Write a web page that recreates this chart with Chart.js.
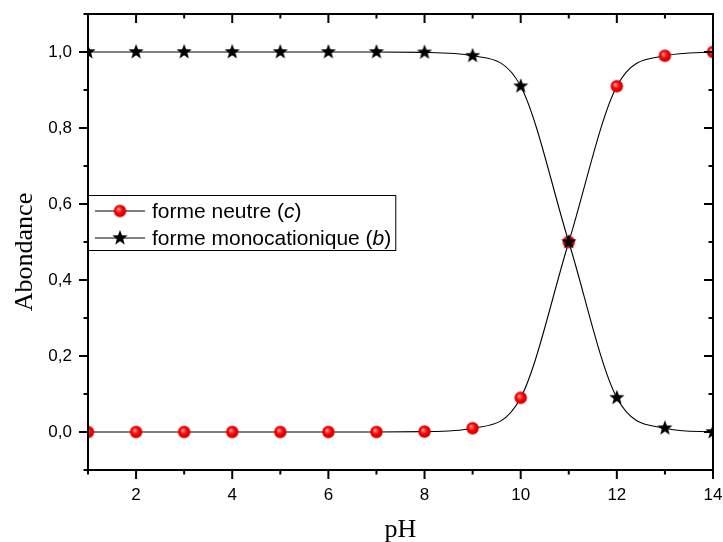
<!DOCTYPE html>
<html>
<head>
<meta charset="utf-8">
<script src="https://cdn.jsdelivr.net/npm/chart.js@4.4.1/dist/chart.umd.min.js"></script>
<style>
  html, body { margin: 0; padding: 0; background: #fff; }
  canvas { display: block; }
</style>
</head>
<body>
<canvas id="chart" width="723" height="542"></canvas>
<script>
// pH values and the abundance of each form
const pH = [1, 2, 3, 4, 5, 6, 7, 8, 9, 10, 11, 12, 13, 14];
const neutre = [0, 0, 0, 0, 0, 0, 0, 0.001, 0.01, 0.09, 0.5, 0.91, 0.99, 1.0];
const monocation = [1, 1, 1, 1, 1, 1, 1, 0.999, 0.99, 0.91, 0.5, 0.09, 0.01, 0.0];

// labelled ticks
const xTicks = [2, 4, 6, 8, 10, 12, 14];
const yTicks = [0, 0.2, 0.4, 0.6, 0.8, 1.0];

// legend texts: plain part + italic symbol
const seriesNames = ['forme neutre', 'forme monocationique'];
const seriesSymbols = ['c', 'b'];

const SANS = "'Liberation Sans', Arial, sans-serif";
const SERIF = "'Liberation Serif', 'Times New Roman', serif";

// red shaded sphere marker
function makeSphere(r) {
  const s = Math.ceil(r * 2 + 2);
  const cv = document.createElement('canvas');
  cv.width = s; cv.height = s;
  const g = cv.getContext('2d');
  const c = s / 2;
  const grad = g.createRadialGradient(c - r * 0.3, c - r * 0.35, 0, c, c, r);
  grad.addColorStop(0, '#ffe0e0');
  grad.addColorStop(0.22, '#ff6060');
  grad.addColorStop(0.55, '#ff0000');
  grad.addColorStop(1, '#c80000');
  g.fillStyle = grad;
  g.beginPath();
  g.arc(c, c, r, 0, Math.PI * 2);
  g.fill();
  return cv;
}

// filled black five-pointed star marker
function makeStar(R) {
  const s = Math.ceil(R * 2 + 2);
  const cv = document.createElement('canvas');
  cv.width = s; cv.height = s;
  const g = cv.getContext('2d');
  const c = s / 2;
  const r = R * 0.42;
  g.fillStyle = '#000';
  g.beginPath();
  for (let i = 0; i < 10; i++) {
    const a = -Math.PI / 2 + i * Math.PI / 5;
    const rad = i % 2 === 0 ? R : r;
    const x = c + rad * Math.cos(a), y = c + rad * Math.sin(a);
    if (i === 0) g.moveTo(x, y); else g.lineTo(x, y);
  }
  g.closePath();
  g.fill();
  return cv;
}

const sphere = makeSphere(6.2);
const star = makeStar(8);

const fmt = v => v.toFixed(1).replace('.', ',');

// box frame with major/minor ticks on all four sides
const framePlugin = {
  id: 'frame',
  afterDatasetsDraw(chart) {
    const { ctx, chartArea: a, scales: { x, y } } = chart;
    ctx.save();
    ctx.strokeStyle = '#000';
    ctx.lineWidth = 2;
    ctx.lineCap = 'butt';
    ctx.strokeRect(a.left, a.top, a.right - a.left, a.bottom - a.top);
    ctx.beginPath();
    for (let v = 1; v <= 14; v++) {
      const px = x.getPixelForValue(v);
      const len = v % 2 === 0 ? 9 : 4.5;
      ctx.moveTo(px, a.bottom); ctx.lineTo(px, a.bottom + len);
      ctx.moveTo(px, a.top); ctx.lineTo(px, a.top + len);
    }
    for (let k = -1; k <= 11; k++) {
      const v = k / 10;
      const py = y.getPixelForValue(v);
      const len = (k % 2 === 0) ? 9 : 4.5;
      ctx.moveTo(a.left, py); ctx.lineTo(a.left - len, py);
      ctx.moveTo(a.right, py); ctx.lineTo(a.right - len, py);
    }
    ctx.stroke();
    ctx.restore();
  },
  afterDraw(chart) {
    const { ctx, chartArea: a } = chart;
    ctx.save();
    ctx.fillStyle = '#000';
    // axis titles
    ctx.font = '26px ' + SERIF;
    ctx.textAlign = 'center';
    ctx.textBaseline = 'alphabetic';
    ctx.fillText('pH', (a.left + a.right) / 2, 537);
    ctx.translate(32, 252);
    ctx.rotate(-Math.PI / 2);
    ctx.fillText('Abondance', 0, 0);
    ctx.restore();

    // legend inside the plot area
    ctx.save();
    const fontN = '21px ' + SANS;
    const fontI = 'italic 21px ' + SANS;
    const rows = [211, 238];
    const markers = [sphere, star];
    const textX = 152;
    let maxW = 0;
    seriesNames.forEach((n, i) => {
      ctx.font = fontN;
      let w = ctx.measureText(n + ' (').width + ctx.measureText(')').width;
      ctx.font = fontI;
      w += ctx.measureText(seriesSymbols[i]).width;
      maxW = Math.max(maxW, w);
    });
    const boxL = a.left, boxT = 195, boxB = 250;
    const boxR = textX + maxW + 4;
    ctx.fillStyle = '#fff';
    ctx.fillRect(boxL, boxT, boxR - boxL, boxB - boxT);
    ctx.strokeStyle = '#000';
    ctx.lineWidth = 1;
    ctx.strokeRect(boxL + 0.5, boxT + 0.5, boxR - boxL, boxB - boxT);
    rows.forEach((ry, i) => {
      ctx.strokeStyle = '#000';
      ctx.lineWidth = 1.2;
      ctx.beginPath();
      ctx.moveTo(95, ry); ctx.lineTo(145, ry);
      ctx.stroke();
      const m = markers[i];
      ctx.drawImage(m, 120 - m.width / 2, ry - m.height / 2);
      ctx.fillStyle = '#000';
      ctx.textBaseline = 'middle';
      ctx.textAlign = 'left';
      let tx = textX;
      ctx.font = fontN;
      const p1 = seriesNames[i] + ' (';
      ctx.fillText(p1, tx, ry + 1);
      tx += ctx.measureText(p1).width;
      ctx.font = fontI;
      ctx.fillText(seriesSymbols[i], tx, ry + 1);
      tx += ctx.measureText(seriesSymbols[i]).width;
      ctx.font = fontN;
      ctx.fillText(')', tx, ry + 1);
    });
    ctx.restore();
  }
};

const toPoints = arr => pH.map((v, i) => ({ x: v, y: arr[i] }));

new Chart(document.getElementById('chart'), {
  type: 'line',
  data: {
    datasets: [
      {
        label: seriesNames[1] + ' (' + seriesSymbols[1] + ')',
        data: toPoints(monocation),
        borderColor: '#000',
        borderWidth: 1.1,
        pointStyle: star,
        cubicInterpolationMode: 'monotone',
        clip: 0,
        order: 0
      },
      {
        label: seriesNames[0] + ' (' + seriesSymbols[0] + ')',
        data: toPoints(neutre),
        borderColor: '#000',
        borderWidth: 1.1,
        pointStyle: sphere,
        cubicInterpolationMode: 'monotone',
        clip: 0,
        order: 1
      }
    ]
  },
  options: {
    responsive: false,
    animation: false,
    devicePixelRatio: 1,
    layout: { padding: { top: 14, right: 10, left: 0, bottom: 0 } },
    plugins: { legend: { display: false }, tooltip: { enabled: false } },
    scales: {
      x: {
        type: 'linear',
        min: 1, max: 14,
        afterBuildTicks: s => { s.ticks = xTicks.map(v => ({ value: v })); },
        afterFit: s => { s.height = 72; s.paddingLeft = 0; s.paddingRight = 0; },
        grid: { display: false, drawTicks: false },
        border: { display: false },
        ticks: {
          padding: 15,
          color: '#000',
          font: { family: SANS, size: 17 },
          maxRotation: 0,
          callback: v => String(v)
        }
      },
      y: {
        type: 'linear',
        min: -0.1, max: 1.1,
        afterBuildTicks: s => { s.ticks = yTicks.map(v => ({ value: v })); },
        afterFit: s => { s.width = 88; s.paddingTop = 0; s.paddingBottom = 0; },
        grid: { display: false, drawTicks: false },
        border: { display: false },
        ticks: {
          padding: 16,
          color: '#000',
          font: { family: SANS, size: 17 },
          callback: v => fmt(v)
        }
      }
    }
  },
  plugins: [framePlugin]
});
</script>
</body>
</html>
